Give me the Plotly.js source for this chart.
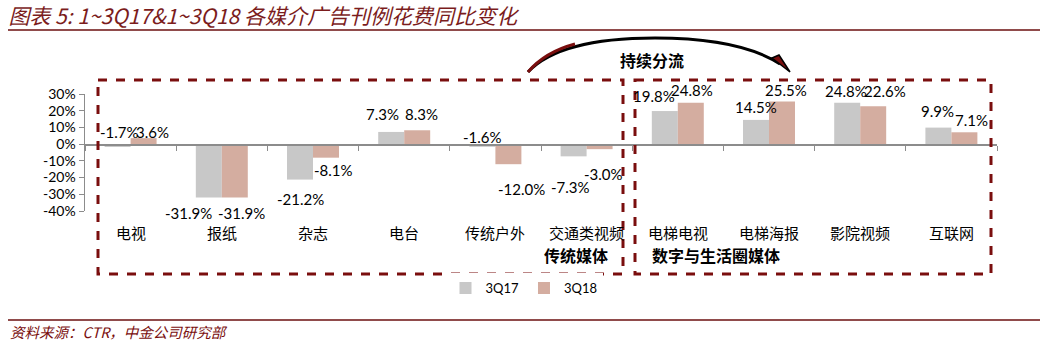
<!DOCTYPE html>
<html><head><meta charset="utf-8">
<script src="https://cdn.plot.ly/plotly-3.0.1.min.js"></script>
<style>body{margin:0;background:#fff}#c{width:1047px;height:361px}</style>
</head><body><div id="c"></div>
<script>
const categories = ['电视','报纸','杂志','电台','传统户外','交通类视频','电梯电视','电梯海报','影院视频','互联网'];
const q17 = [-1.7,-31.9,-21.2,7.3,-1.6,-7.3,19.8,14.5,24.8,9.9];
const q18 = [3.6,-31.9,-8.1,8.3,-12.0,-3.0,24.8,25.5,22.6,7.1];
const seriesNames = ['3Q17','3Q18'];
const yTickVals = [-40,-30,-20,-10,0,10,20,30];
const yTickText = ['-40%','-30%','-20%','-10%','0%','10%','20%','30%'];
const titleText = '图表 5: 1~3Q17&1~3Q18 各媒介广告刊例花费同比变化';
const sourceText = '资料来源：CTR，中金公司研究部';
const groupLabels = ['传统媒体','数字与生活圈媒体'];
const arrowLabel = '持续分流';

// label offsets (style only, px, relative to bar end)
const dx17 = [2,-20,0,-9,0,-3,-11,0,-1,-1];
const dy17 = [15,-16,-19,18,10,-31,15,13,12,17];
const dx18 = [9,7,7,4,13,4,1,4,12,7];
const dy18 = [6,-16,-12,16,-25,-25,13,12,15,12];

// pixel -> paper helpers (plot area: x 85..997, y 94..211)
const L=85,R=997,T=94,B=211;
const px = x => (x-L)/(R-L);
const py = y => (B-y)/(B-T);

const fmt = v => v.toFixed(1)+'%';
const cjk = '"Noto Sans CJK SC", sans-serif';
const num = 'Lato, "Liberation Sans", sans-serif';
const dark = '#7A0E0E';
const halfBar = 13;

const traces = [
 {type:'bar',name:seriesNames[0],x:categories,y:q17,marker:{color:'#C8C8C8'},hoverinfo:'skip'},
 {type:'bar',name:seriesNames[1],x:categories,y:q18,marker:{color:'#D4ADA0'},hoverinfo:'skip'}
];

const annotations = [];
categories.forEach((c,i)=>{
  annotations.push({x:c,xref:'x',y:q17[i],yref:'y',text:fmt(q17[i]),showarrow:false,xanchor:'center',yanchor:'middle',
    xshift:-halfBar+dx17[i],yshift:dy17[i],font:{family:num,size:15,color:'#000'}});
  annotations.push({x:c,xref:'x',y:q18[i],yref:'y',text:fmt(q18[i]),showarrow:false,xanchor:'center',yanchor:'middle',
    xshift:halfBar+dx18[i],yshift:dy18[i],font:{family:num,size:15,color:'#000'}});
  annotations.push({x:c,xref:'x',y:py(232),yref:'paper',text:c,showarrow:false,
    font:{family:cjk,size:15,color:'#000'},xanchor:'center',yanchor:'middle'});
});
annotations.push({xref:'paper',yref:'paper',x:px(576),y:py(255),xanchor:'center',yanchor:'middle',text:'<b>'+groupLabels[0]+'</b>',showarrow:false,font:{family:cjk,size:16,color:'#000'}});
annotations.push({xref:'paper',yref:'paper',x:px(716),y:py(255),xanchor:'center',yanchor:'middle',text:'<b>'+groupLabels[1]+'</b>',showarrow:false,font:{family:cjk,size:16,color:'#000'}});
annotations.push({xref:'paper',yref:'paper',x:px(652),y:py(60),xanchor:'center',yanchor:'middle',text:'<b>'+arrowLabel+'</b>',showarrow:false,font:{family:cjk,size:16,color:'#000'}});
annotations.push({xref:'paper',yref:'paper',x:px(8),xanchor:'left',y:py(331),yanchor:'middle',text:sourceText,showarrow:false,font:{family:cjk,size:14.5,color:dark,style:'italic'}});

const shapes = [
 {type:'line',xref:'paper',yref:'paper',x0:px(8),x1:px(1040),y0:py(30),y1:py(30),line:{color:'#6B0F0F',width:1.5}},
 {type:'line',xref:'paper',yref:'paper',x0:px(8),x1:px(1040),y0:py(320),y1:py(320),line:{color:'#6B0F0F',width:1.5}},
 {type:'rect',xref:'paper',yref:'paper',x0:px(98),x1:px(623),y0:py(80),y1:py(274),line:{color:dark,width:3,dash:'dash'}},
 {type:'rect',xref:'paper',yref:'paper',x0:px(635),x1:px(991),y0:py(80),y1:py(274),line:{color:dark,width:3,dash:'dash'}},
 {type:'path',xref:'paper',yref:'paper',
  path:`M ${px(528)} ${py(72)} Q ${px(560)} ${py(38)} ${px(655)} ${py(38)} Q ${px(740)} ${py(38)} ${px(780)} ${py(64)}`,
  line:{color:'#000',width:3}},
 {type:'path',xref:'paper',yref:'paper',
  path:`M ${px(528)} ${py(72)} Q ${px(545)} ${py(52)} ${px(575)} ${py(44)}`,
  line:{color:dark,width:3}},
 {type:'path',xref:'paper',yref:'paper',
  path:`M ${px(772)} ${py(58)} L ${px(790)} ${py(72)} L ${px(779)} ${py(55)} Z`,
  fillcolor:dark,line:{color:'#000',width:1.5}}
];

const layout = {
 width:1047,height:361,margin:{l:L,r:1047-R,t:T,b:361-B},
 paper_bgcolor:'#fff',plot_bgcolor:'#fff',
 title:{text:titleText,x:0.008,xanchor:'left',xref:'container',y:0.955,yref:'container',yanchor:'middle',
   font:{family:cjk,size:21,color:'#7B1C1C',style:'italic'}},
 barmode:'group',bargap:0.43,bargroupgap:0,
 showlegend:true,
 legend:{orientation:'h',x:px(524),xanchor:'center',y:py(288),yanchor:'middle',
   font:{family:num,size:13,color:'#000'},itemwidth:30,tracegroupgap:0},
 xaxis:{type:'category',anchor:'free',position:40/70,showline:true,linecolor:'#8C8C8C',linewidth:1.5,
   showticklabels:false,ticks:'outside',tickson:'boundaries',ticklen:5,tickcolor:'#8C8C8C',
   showgrid:false,zeroline:false,range:[-0.5,9.5],fixedrange:true},
 yaxis:{range:[-40,30],tickvals:yTickVals,ticktext:yTickText,showline:true,linecolor:'#8C8C8C',linewidth:1.5,
   ticks:'outside',ticklen:5,tickcolor:'#8C8C8C',showgrid:false,zeroline:false,
   tickfont:{family:num,size:14,color:'#000'}},
 annotations:annotations,shapes:shapes
};
Plotly.newPlot('c',traces,layout,{staticPlot:true});
</script></body></html>
